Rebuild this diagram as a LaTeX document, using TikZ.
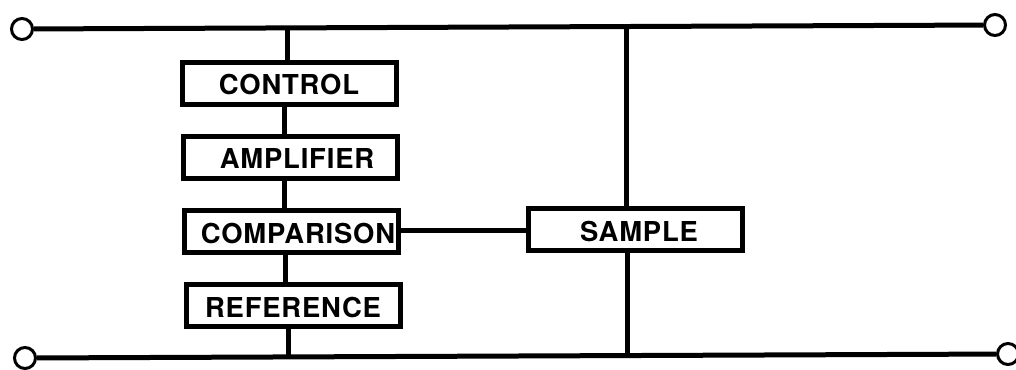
\documentclass[tikz,border=0pt]{standalone}
\usepackage{fontspec}
\setmainfont{TeX Gyre Heros}[LetterSpace=3]
\begin{document}
\begin{tikzpicture}[x=0.025cm,y=-0.025cm,
  wire/.style={line width=5*0.025cm},
  blk/.style={draw,line width=5*0.025cm,minimum width=214*0.025cm,minimum height=42*0.025cm,inner sep=0pt},
  lbl/.style={inner sep=0pt,font=\fontsize{19.5}{20}\selectfont\bfseries},
  term/.style={circle,draw,fill=white,line width=3*0.025cm,minimum size=21*0.025cm,inner sep=0pt}]
\useasboundingbox (0,0) rectangle (1016,369);
% terminals
\node[term] (tl) at (22,29) {};
\node[term] (tr) at (995,25) {};
\node[term] (bl) at (25,358) {};
\node[term] (br) at (1008,354) {};
% blocks
\node[blk] (ctrl) at (289,83) {};
\node[blk] (amp) at (290,157) {};
\node[blk] (comp) at (291,231) {};
\node[blk] (ref) at (293,305) {};
\node[blk] (samp) at (635,229) {};
\node[lbl] at (289,85) {CONTROL};
\node[lbl] at (297,159) {AMPLIFIER};
\node[lbl] at (298,233) {COMPARISON};
\node[lbl] at (293,307) {REFERENCE};
\node[lbl] at (639,231) {SAMPLE};
% rails
\draw[wire] (tl) -- (tr);
\draw[wire] (bl) -- (br);
% chain
\coordinate (ct) at (287,27);
\coordinate (cb) at (288,356);
\coordinate (st) at (626,26);
\coordinate (sb) at (627,355);
\draw[wire] (ct) -- (ct |- ctrl.north);
\draw[wire] (ctrl.south -| 284,0) -- (amp.north -| 284,0);
\draw[wire] (amp.south -| 284,0) -- (comp.north -| 284,0);
\draw[wire] (comp.south -| 285,0) -- (ref.north -| 285,0);
\draw[wire] (ref.south -| cb) -- (cb);
\draw[wire] (comp.east |- 0,230) -- (samp.west |- 0,230);
\draw[wire] (st) -- (st |- samp.north);
\draw[wire] (samp.south -| sb) -- (sb);
\end{tikzpicture}
\end{document}
